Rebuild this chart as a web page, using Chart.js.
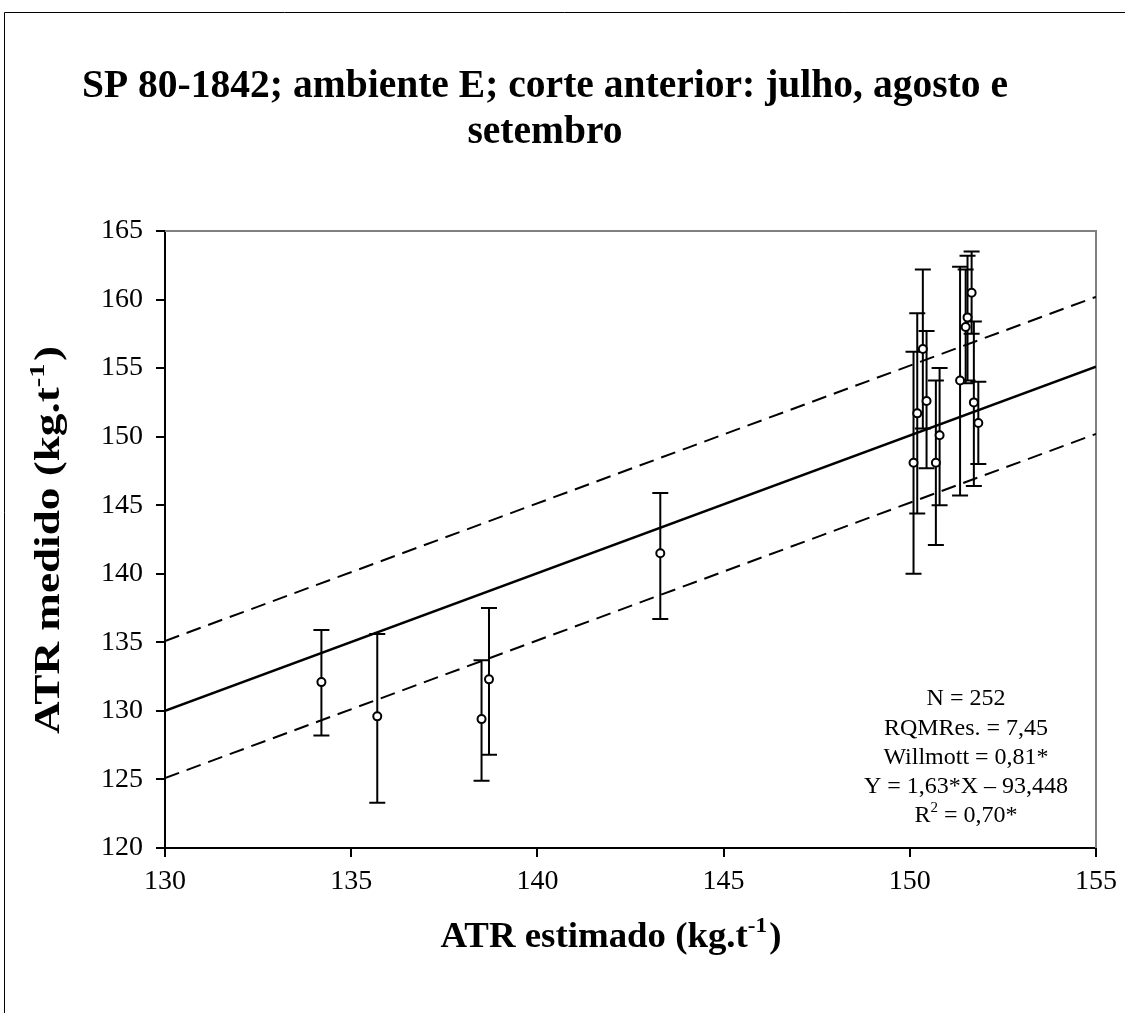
<!DOCTYPE html>
<html>
<head>
<meta charset="utf-8">
<script src="https://cdn.jsdelivr.net/npm/chart.js@4/dist/chart.umd.min.js"></script>
<style>
  html, body { margin: 0; padding: 0; background: #fff; }
  #wrap { width: 1125px; height: 1013px; position: relative; }
</style>
</head>
<body>
<div id="wrap"><canvas id="c" width="1125" height="1013"></canvas></div>
<script>
// ---- data ----
const titleLines = ["SP 80-1842; ambiente E; corte anterior: julho, agosto e", "setembro"];
const xTitle = "ATR estimado (kg.t";
const yTitle = "ATR medido (kg.t";
const titleSup = "-1";
const statsLines = ["N = 252", "RQMRes. = 7,45", "Willmott = 0,81*", "Y = 1,63*X \u2013 93,448", "= 0,70*"];

const estimado = [134.2, 135.7, 138.5, 138.7, 143.3, 150.1, 150.2, 150.35, 150.45, 150.7, 150.8, 151.35, 151.5, 151.55, 151.66, 151.72, 151.84];
const medido   = [132.1, 129.6, 129.4, 132.3, 141.5, 148.1, 151.7, 156.4, 152.6, 148.1, 150.1, 154.1, 158.0, 158.7, 160.5, 152.5, 151.0];
const errLow   = [128.2, 123.3, 124.9, 126.8, 136.7, 140.0, 144.4, 150.6, 147.7, 142.1, 145.0, 145.7, 153.9, 154.1, 157.5, 146.4, 148.0];
const errHigh  = [135.9, 135.6, 133.7, 137.5, 145.9, 156.2, 159.0, 162.2, 157.7, 154.1, 155.0, 162.4, 162.2, 163.2, 163.5, 158.4, 154.0];

const lineX     = [130, 155];
const fitY      = [130.0, 155.1];
const upperY    = [135.1, 160.2];
const lowerY    = [125.1, 150.2];

const xMin = 130, xMax = 155, xStep = 5;
const yMin = 120, yMax = 165, yStep = 5;

const SERIF = "'Liberation Serif', 'Times New Roman', serif";

const pts = estimado.map((x, i) => ({x: x, y: medido[i]}));
const mk = (ys) => lineX.map((x, i) => ({x: x, y: ys[i]}));

// draw text centered at cx, horizontally scaled so its width equals target
function fittedText(ctx, text, cx, y, target) {
  const w = ctx.measureText(text).width;
  const s = target / w;
  ctx.save();
  ctx.translate(cx - target / 2, y);
  ctx.scale(s, 1);
  ctx.textAlign = 'left';
  ctx.fillText(text, 0, 0);
  ctx.restore();
}

const decor = {
  id: 'decor',
  beforeDraw(chart) {
    const ctx = chart.ctx;
    ctx.save();
    ctx.fillStyle = '#fff';
    ctx.fillRect(0, 0, chart.width, chart.height);
    ctx.strokeStyle = '#000';
    ctx.lineWidth = 1;
    ctx.beginPath();
    ctx.moveTo(4.5, 1013);
    ctx.lineTo(4.5, 12.5);
    ctx.lineTo(1125, 12.5);
    ctx.stroke();
    ctx.restore();
  },
  beforeDatasetsDraw(chart) {
    const ctx = chart.ctx;
    const xs = chart.scales.x, ys = chart.scales.y;
    const a = chart.chartArea;
    ctx.save();
    ctx.strokeStyle = '#808080';
    ctx.lineWidth = 2;
    ctx.beginPath();
    ctx.moveTo(a.left, a.top);
    ctx.lineTo(a.right, a.top);
    ctx.lineTo(a.right, a.bottom);
    ctx.stroke();
    ctx.strokeStyle = '#000';
    ctx.lineWidth = 2;
    for (let i = 0; i < estimado.length; i++) {
      const px = xs.getPixelForValue(estimado[i]);
      const pl = ys.getPixelForValue(errLow[i]);
      const ph = ys.getPixelForValue(errHigh[i]);
      ctx.beginPath();
      ctx.moveTo(px, pl); ctx.lineTo(px, ph);
      ctx.moveTo(px - 8, pl); ctx.lineTo(px + 8, pl);
      ctx.moveTo(px - 8, ph); ctx.lineTo(px + 8, ph);
      ctx.stroke();
    }
    ctx.restore();
  },
  afterDraw(chart) {
    const ctx = chart.ctx;
    ctx.save();
    ctx.fillStyle = '#000';
    ctx.textBaseline = 'alphabetic';
    // title
    ctx.font = 'bold 39px ' + SERIF;
    fittedText(ctx, titleLines[0], 545, 97, 926);
    const w2 = ctx.measureText(titleLines[1]).width * 926 / ctx.measureText(titleLines[0]).width;
    fittedText(ctx, titleLines[1], 545, 143, w2);

    const axisTitle = (main, cx, cy, target) => {
      ctx.font = 'bold 35px ' + SERIF;
      const wMain = ctx.measureText(main).width;
      const wClose = ctx.measureText(')').width;
      ctx.font = 'bold 22px ' + SERIF;
      const wSup = ctx.measureText(titleSup).width;
      const total = wMain + wSup + 2 + wClose;
      const s = target / total;
      ctx.save();
      ctx.translate(cx - target / 2, cy);
      ctx.scale(s, 1);
      ctx.textAlign = 'left';
      ctx.font = 'bold 35px ' + SERIF;
      ctx.fillText(main, 0, 0);
      ctx.font = 'bold 22px ' + SERIF;
      ctx.fillText(titleSup, wMain, -15);
      ctx.font = 'bold 35px ' + SERIF;
      ctx.fillText(')', wMain + wSup + 2, 0);
      ctx.restore();
    };
    axisTitle(xTitle, 611, 947, 341);
    ctx.save();
    ctx.translate(59, 540);
    ctx.rotate(-Math.PI / 2);
    axisTitle(yTitle, 0, 0, 388);
    ctx.restore();

    // stats text
    ctx.font = '24px ' + SERIF;
    ctx.textAlign = 'center';
    const cx = 966;
    const base = [705, 735, 764, 793, 822];
    for (let i = 0; i < 4; i++) ctx.fillText(statsLines[i], cx, base[i]);
    ctx.font = '24px ' + SERIF;
    const wR = ctx.measureText('R').width;
    ctx.font = '15px ' + SERIF;
    const wTwo = ctx.measureText('2').width;
    ctx.font = '24px ' + SERIF;
    const wRest = ctx.measureText(' ' + statsLines[4]).width;
    let x = cx - (wR + wTwo + wRest) / 2;
    ctx.textAlign = 'left';
    ctx.fillText('R', x, base[4]); x += wR;
    ctx.font = '15px ' + SERIF;
    ctx.fillText('2', x, base[4] - 10); x += wTwo;
    ctx.font = '24px ' + SERIF;
    ctx.fillText(' ' + statsLines[4], x, base[4]);
    ctx.restore();
  }
};

new Chart(document.getElementById('c'), {
  type: 'scatter',
  data: {
    datasets: [
      { data: mk(fitY), showLine: true, borderColor: '#000', borderWidth: 2.5, pointRadius: 0, fill: false, order: 3 },
      { data: mk(upperY), showLine: true, borderColor: '#000', borderWidth: 2, borderDash: [15, 8], pointRadius: 0, fill: false, order: 3 },
      { data: mk(lowerY), showLine: true, borderColor: '#000', borderWidth: 2, borderDash: [15, 8], pointRadius: 0, fill: false, order: 3 },
      { data: pts, pointStyle: 'circle', pointRadius: 4, borderColor: '#000', borderWidth: 2, backgroundColor: '#fff', showLine: false, order: 1 }
    ]
  },
  options: {
    responsive: false,
    animation: false,
    events: [],
    layout: { padding: { left: 0, top: 231, right: 27, bottom: 0 } },
    plugins: { legend: { display: false }, tooltip: { enabled: false }, title: { display: false } },
    scales: {
      x: {
        type: 'linear', min: xMin, max: xMax,
        afterFit(s) { s.height = 165; },
        ticks: { stepSize: xStep, color: '#000', font: { family: SERIF, size: 28 }, padding: 8, maxRotation: 0 },
        grid: { display: true, drawOnChartArea: false, drawTicks: true, tickLength: 9, color: '#000', lineWidth: 2 },
        border: { display: true, color: '#000', width: 2 }
      },
      y: {
        type: 'linear', min: yMin, max: yMax,
        afterFit(s) { s.width = 165; },
        ticks: { stepSize: yStep, color: '#000', font: { family: SERIF, size: 28 }, padding: 13 },
        grid: { display: true, drawOnChartArea: false, drawTicks: true, tickLength: 9, color: '#000', lineWidth: 2 },
        border: { display: true, color: '#000', width: 2 }
      }
    }
  },
  plugins: [decor]
});
</script>
</body>
</html>
